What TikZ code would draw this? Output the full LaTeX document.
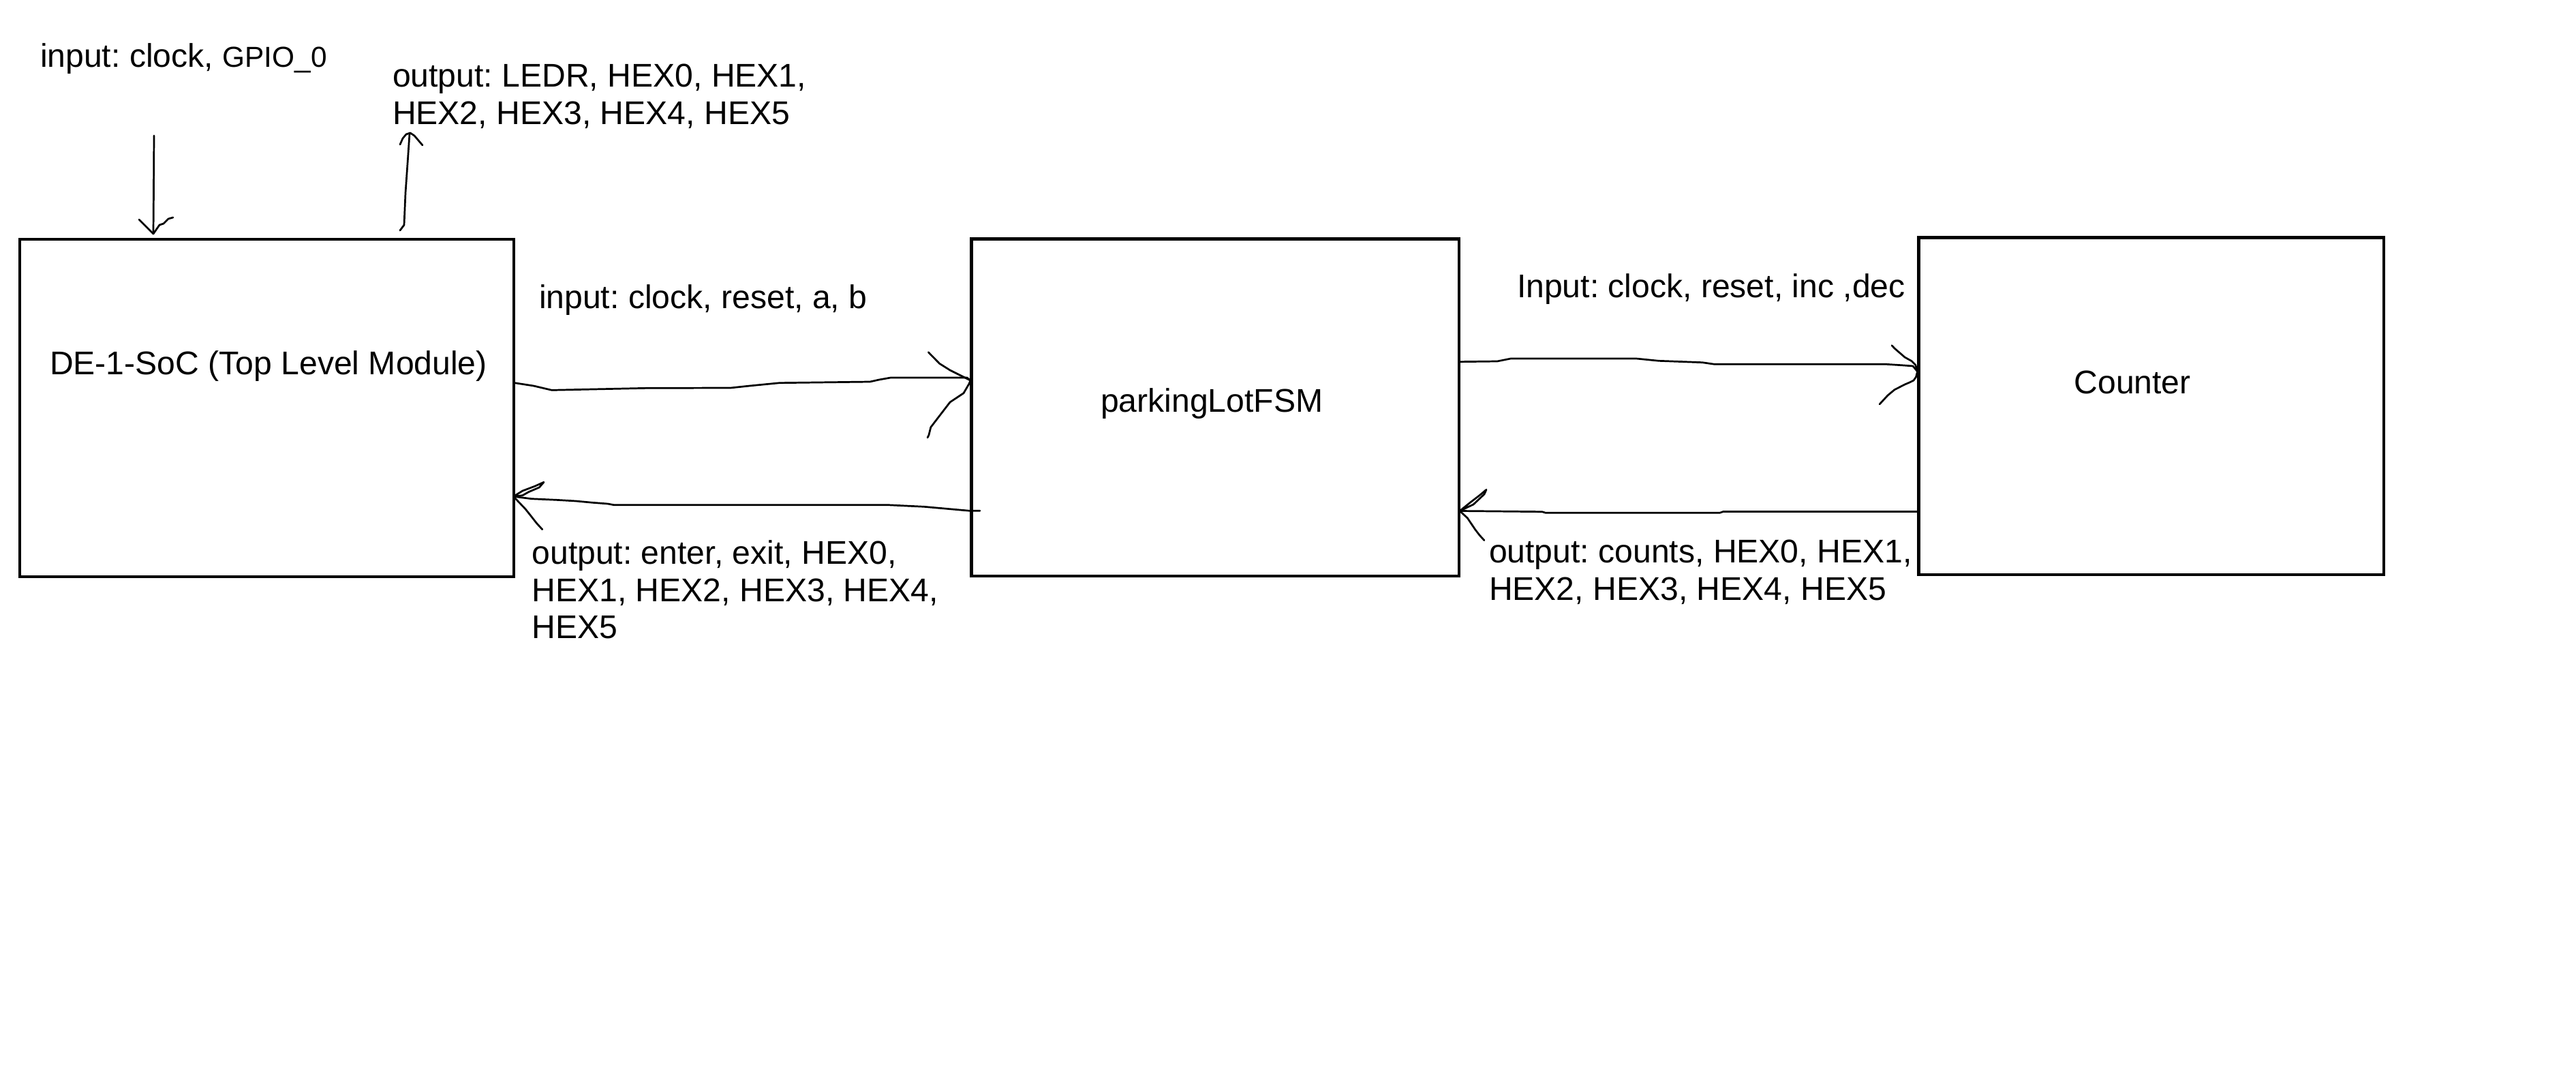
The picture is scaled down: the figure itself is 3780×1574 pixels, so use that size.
\documentclass[tikz,border=0pt]{standalone}
\usepackage{fontspec}
\setmainfont{Liberation Sans}
\usetikzlibrary{calc}
\frenchspacing
\newcommand\lblfont{\fontsize{12.03pt}{13.6pt}\selectfont}
\newcommand\smlfont{\fontsize{10.6pt}{12pt}\selectfont}
\begin{document}
\begin{tikzpicture}[x=0.25pt, y=-0.25pt,
  blk/.style={draw, line width=1.15pt, rectangle, inner sep=0pt, outer sep=0pt},
  lbl/.style={inner sep=0pt, outer sep=0pt, anchor=base west, align=left, font=\lblfont},
  wire/.style={line width=0.68pt, line join=round, line cap=round}]
\useasboundingbox[fill=white] (0,0) rectangle (3780,1574);

% blocks
\node[blk, minimum width=181.25pt, minimum height=123.75pt] (b1) at (391.5,598.5) {};
\node[blk, minimum width=178.875pt, minimum height=123.625pt] (b2) at (1783.25,597.75) {};
\node[blk, minimum width=170.625pt, minimum height=123.6pt] (b3) at (3156.75,595.8) {};

% block titles
\node[lbl] (t1) at (73,549) {DE-1-SoC (Top Level Module)};
\node[lbl] (t2) at (1615,604) {parkingLotFSM};
\node[lbl] (t3) at (3043.5,577.5) {Counter};

% signal labels (anchor = baseline of the last line)
\node[lbl] (in0) at (59,98) {input: clock, {\smlfont GPIO\_0}};
\node[lbl] (out0) at (576,182.3) {output: LEDR, HEX0, HEX1,\\HEX2, HEX3, HEX4, HEX5};
\node[lbl] (in1) at (791,452) {input: clock, reset, a, b};
\node[lbl] (out1) at (780.5,936.7) {output: enter, exit, HEX0,\\HEX1, HEX2, HEX3, HEX4,\\HEX5};
\node[lbl] (in2) at (2226,436.7) {Input: clock, reset, inc ,dec};
\node[lbl] (out2) at (2185,880) {output: counts, HEX0, HEX1,\\HEX2, HEX3, HEX4, HEX5};

% connector end points
\coordinate (a0) at (226,199);
\coordinate (ta) at ($(b1.north west)+(196,-8)$);
\coordinate (bb) at ($(b1.north west)+(558,-13)$);
\coordinate (bt) at (601,196);
\coordinate (cs) at ($(b1.north east)+(0,210.5)$);
\coordinate (tc) at ($(b2.north west)+(-1.5,207.5)$);
\coordinate (ds) at ($(b2.north west)+(12.5,398.8)$);
\coordinate (td) at ($(b1.north east)+(-0.5,377.3)$);
\coordinate (es) at ($(b2.north east)+(0,180.2)$);
\coordinate (te) at ($(b3.north west)+(-2,196.4)$);
\coordinate (fs) at ($(b3.north west)+(0,401.9)$);
\coordinate (tf) at ($(b2.north east)+(1,399)$);

% A: input into DE-1-SoC
\draw[wire] (a0) -- (225.5,280) -- (ta);
\draw[wire] (204,322) -- (212,330) -- (ta);
\draw[wire] (254,319) -- (247,321) -- (240,328) -- (234,330) -- (ta);

% B: output of DE-1-SoC
\draw[wire] (bb) -- (593,330) -- (595,283) -- (598.5,233) -- (bt);
\draw[wire] (587,212) -- (591,203) -- (596,197) -- (602,195) -- (608,199) -- (614,206) -- (620,213);

% C: DE-1-SoC -> parkingLotFSM
\draw[wire] (cs) -- (783,566) -- (809.7,572.3) -- (950,569.3) -- (1072,569) -- (1100,566)
  -- (1143.9,561.7) -- (1276.5,560) -- (1290,557) -- (1307,554) -- (1419,554) -- (tc);
\draw[wire] (1362.3,516.7) -- (1378.6,533.3) -- (1394,543) -- (1406,549) -- (tc);
\draw[wire] (tc) -- (1422,563) -- (1414,576.7) -- (1394,590) -- (1378.6,610)
  -- (1365.8,626.7) -- (1363,638) -- (1361,642);

% D: parkingLotFSM -> DE-1-SoC
\draw[wire] (ds) -- (1423,749.3) -- (1356,743.3) -- (1302.5,740.7) -- (1226.6,740.7)
  -- (900.7,740.7) -- (891.8,739) -- (869.5,737.3) -- (845,735) -- (815.9,733.3)
  -- (780,731.7) -- (td);
\draw[wire] (td) -- (766.8,720) -- (784.6,713.3) -- (798,707.3) -- (791.3,715)
  -- (775.7,721.7) -- (766.8,726.7) -- (td);
\draw[wire] (td) -- (771,746.7) -- (780,758) -- (787,767) -- (795.8,776.7);

% E: parkingLotFSM -> Counter
\draw[wire] (es) -- (2197,530) -- (2217,526) -- (2401,526) -- (2434,529.3) -- (2498,531.7)
  -- (2515.8,534.3) -- (2768,534.3) -- (2794,536) -- (2807,537) -- (te);
\draw[wire] (2776,506.7) -- (2780,511) -- (2795,524) -- (2805,529.6) -- (2810.8,535.4) -- (te);
\draw[wire] (te) -- (2811.5,553) -- (2808,558) -- (2802,561) -- (2795,564) -- (2780,571.7)
  -- (2770,580) -- (2758,593);

% F: Counter -> parkingLotFSM
\draw[wire] (fs) -- (2528.6,750.5) -- (2523.5,752.3) -- (2268,752.3) -- (2263,750.7) -- (tf);
\draw[wire] (tf) -- (2157.9,736.7) -- (2171,726.7) -- (2181,718.3) -- (2178,725) -- (2162,740) -- (tf);
\draw[wire] (tf) -- (2153.4,760) -- (2164.6,776.7) -- (2171,785) -- (2178,792.7);
\end{tikzpicture}
\end{document}
